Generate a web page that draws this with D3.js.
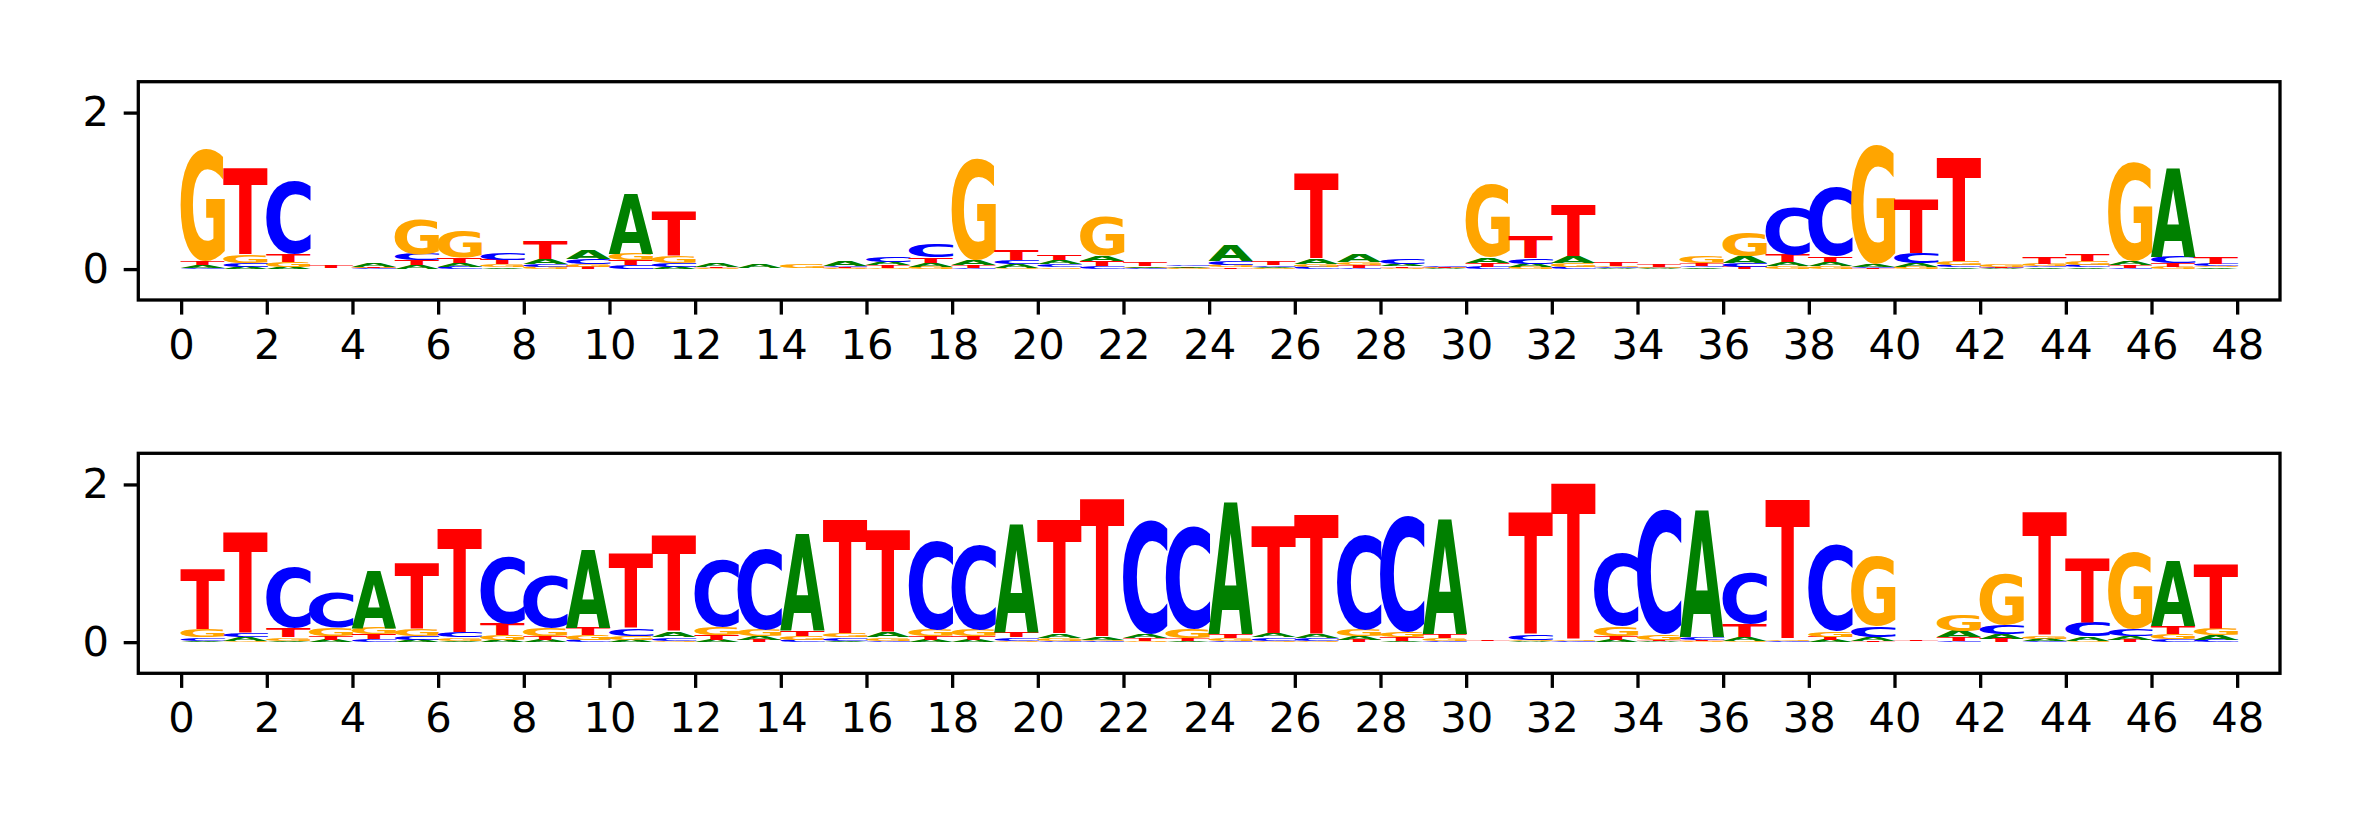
<!DOCTYPE html>
<html lang="en">
<head>
<meta charset="utf-8">
<title>Sequence logos</title>
<script src="https://d3js.org/d3.v7.min.js"></script>
<style>
  body { margin: 0; background: #fff; }
</style>
</head>
<body>
<script>
// per-position letter heights (bits), positions 0..47
var bases = ["A", "C", "G", "T"];
var xTicks = d3.range(0, 49, 2);
var yTicks = [0, 2];

var topA = [.03,.03,.03,.005,.04,.05,.05,.02,.06,.11,.76,.03,.04,.04,.005,.06,.04,.05,.06,.04,.05,.07,.02,.02,.20,.02,.07,.10,.03,.01,.07,.04,.08,.01,.01,.02,.08,.05,.05,.03,.04,.02,.01,.02,.02,.05,1.13,.02];
var topC = [.02,.05,.93,.005,.01,.08,.03,.09,.04,.06,.05,.05,.005,.005,.005,.02,.06,.17,.02,.05,.04,.04,.01,.02,.05,.02,.03,.02,.06,.02,.03,.07,.03,.01,.01,.02,.05,.60,.88,.02,.13,.03,.01,.02,.03,.02,.08,.03];
var topG = [1.44,.10,.06,.005,.01,.45,.35,.04,.03,.04,.08,.08,.01,.005,.05,.01,.02,.03,1.30,.02,.02,.50,.01,.01,.03,.01,.04,.04,.02,.01,.93,.03,.05,.02,.01,.08,.31,.04,.04,1.52,.03,.05,.03,.03,.05,1.27,.03,.02];
var topT = [.05,1.10,.10,.03,.01,.06,.07,.06,.23,.03,.06,.57,.01,.005,.005,.01,.03,.07,.03,.13,.07,.06,.05,.01,.02,.04,1.08,.03,.02,.01,.05,.29,.66,.05,.03,.03,.03,.09,.07,.01,.69,1.33,.01,.08,.08,.03,.05,.08];

var botA = [.02,.04,.02,.03,.73,.03,.02,.03,.03,.99,.03,.07,.03,.05,1.22,.02,.06,.03,.03,1.37,.05,.03,.05,.02,1.67,.05,.05,.05,.02,1.46,.003,.01,.005,.03,.01,1.60,.04,.005,.03,.04,.005,.08,.06,.03,.05,.04,.82,.06];
var botC = [.04,.05,.78,.45,.04,.05,.06,.85,.67,.03,.09,.04,.85,1.03,.03,.04,.02,1.13,1.08,.04,.02,.01,1.45,1.31,.01,.04,.03,1.21,1.47,.01,.003,.07,.01,.93,1.58,.04,.65,.01,1.10,.14,.005,.02,.12,.01,.18,.09,.04,.03];
var botG = [.10,.02,.04,.10,.08,.09,.04,.06,.10,.06,.05,.02,.10,.08,.05,.05,.04,.08,.08,.02,.03,.02,.02,.11,.04,.02,.02,.08,.06,.04,.003,.02,.015,.12,.07,.01,.02,.02,.07,.90,.002,.20,.65,.04,.02,.98,.06,.09];
var botT = [.76,1.28,.12,.05,.06,.83,1.32,.14,.05,.09,.95,1.22,.06,.03,.06,1.44,1.29,.05,.05,.06,1.45,1.75,.03,.03,.05,1.36,1.52,.03,.04,.05,.02,1.54,1.98,.05,.02,.02,.17,1.76,.04,.02,.02,.04,.04,1.56,.82,.03,.10,.81];

var colors = { A: "green", C: "#0000ff", G: "orange", T: "red" };

var W = 2362, H = 826;
var panels = [
  { top: 81.7, bottom: 300, data: [topA, topC, topG, topT] },
  { top: 453.3, bottom: 673.3, data: [botA, botC, botG, botT] }
];

var svg = d3.select("body").append("svg")
  .attr("width", W).attr("height", H)
  .style("font-family", "'DejaVu Sans', sans-serif");

// glyph ink bounds, measured once on a canvas
var FS = 200;
var ctx = document.createElement("canvas").getContext("2d");
ctx.font = "bold " + FS + "px 'DejaVu Sans'";
var glyph = {};
bases.forEach(function(b) {
  var m = ctx.measureText(b);
  glyph[b] = { l: m.actualBoundingBoxLeft, r: m.actualBoundingBoxRight,
               a: m.actualBoundingBoxAscent, d: m.actualBoundingBoxDescent };
});

var x = d3.scaleLinear().domain([-1, 49]).range([138.3, 2280]);

panels.forEach(function(p) {
  var y = d3.scaleLinear().domain([-0.395, 2.395]).range([p.bottom, p.top]);
  var g = svg.append("g");

  // stack letters, smallest at the bottom
  for (var i = 0; i < 48; i++) {
    var col = bases.map(function(b, k) { return { b: b, v: p.data[k][i] }; })
      .sort(function(a, c) { return a.v - c.v; });
    var floor = 0;
    col.forEach(function(c) {
      var gb = glyph[c.b];
      var x0 = x(i + 0.5 - 0.52), x1 = x(i + 0.5 + 0.52);
      var yt = y(floor + c.v), yb = y(floor);
      var sx = (x1 - x0) / (gb.l + gb.r);
      var sy = (yb - yt) / (gb.a + gb.d);
      g.append("text")
        .attr("x", 0).attr("y", 0)
        .attr("font-size", FS)
        .attr("font-weight", "bold")
        .attr("fill", colors[c.b])
        .attr("transform", "translate(" + (x0 + gb.l * sx) + "," + (yt + gb.a * sy) + ") scale(" + sx + "," + sy + ")")
        .text(c.b);
      floor += c.v;
    });
  }

  var xa = g.append("g")
    .attr("transform", "translate(0," + p.bottom + ")")
    .call(d3.axisBottom(x).tickValues(xTicks).tickFormat(d3.format("d"))
      .tickSize(14.6).tickPadding(14.6).tickSizeOuter(0));
  var ya = g.append("g")
    .attr("transform", "translate(138.3,0)")
    .call(d3.axisLeft(y).tickValues(yTicks).tickFormat(d3.format("d"))
      .tickSize(14.6).tickPadding(14.6).tickSizeOuter(0));
  [xa, ya].forEach(function(a) {
    a.select(".domain").remove();
    a.selectAll("line").attr("stroke", "#000").attr("stroke-width", 3.3);
    a.selectAll("text").attr("font-size", 41.7).attr("fill", "#000")
      .attr("font-family", "'DejaVu Sans', sans-serif");
  });

  g.append("rect")
    .attr("x", 138.3).attr("y", p.top)
    .attr("width", 2280 - 138.3).attr("height", p.bottom - p.top)
    .attr("fill", "none").attr("stroke", "#000").attr("stroke-width", 3.3);
});
</script>
</body>
</html>
